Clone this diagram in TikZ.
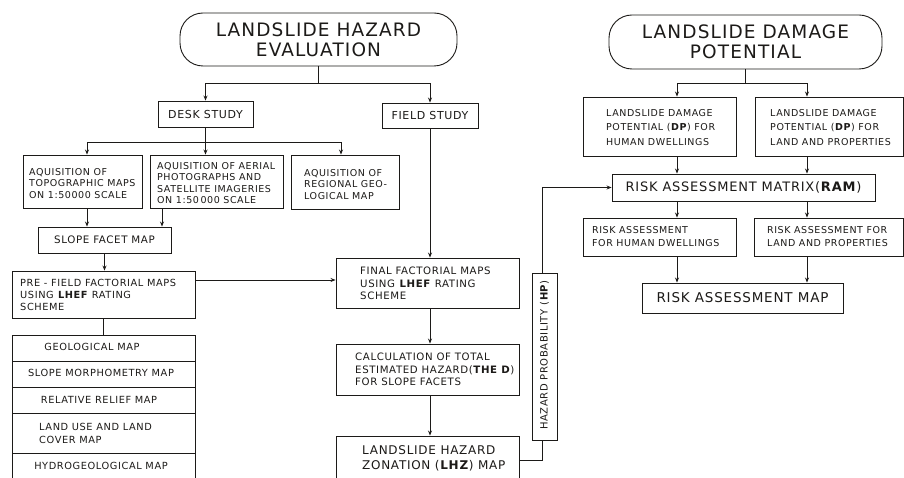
\documentclass[tikz,border=0pt]{standalone}
\usepackage{fontspec}
\setmainfont[LetterSpace=6]{DejaVu Sans}
\usetikzlibrary{arrows.meta}
\definecolor{inkc}{RGB}{28,26,24}
\newcommand\fsz[2]{\fontsize{#1}{#2}\selectfont}
\tikzset{
  box/.style={draw=inkc, line width=0.9pt, inner sep=0pt, text=inkc, align=center},
  pill/.style={box, rounded corners=23pt},
  txt/.style={inner sep=0pt, text=inkc, align=left, anchor=west},
  link/.style={draw=inkc, line width=0.8pt},
  arr/.style={link, -{Stealth[length=5pt,width=4pt]}}
}
\begin{document}
\begin{tikzpicture}[x=1pt,y=-1pt]
\useasboundingbox[fill=white] (0,0) rectangle (904,478);

% ---------------- hazard evaluation branch ----------------
\node[pill, minimum width=277pt, minimum height=53pt, font=\fsz{18.5}{20}] (haz) at (318.5,39.5) {LANDSLIDE HAZARD\\EVALUATION};

\node[box, minimum width=95pt, minimum height=26pt, font=\fsz{11}{13}] (desk) at (205.5,114) {DESK STUDY};
\node[box, minimum width=96pt, minimum height=25pt, font=\fsz{11}{13}] (field) at (430,115.5) {FIELD STUDY};

\node[box, minimum width=119pt, minimum height=53pt] (a1) at (82.5,181.5) {};
\node[txt, font=\fsz{9.5}{11.5}] (a1t) at (29,183.5) {AQUISITION OF\\TOPOGRAPHIC MAPS\\ON 1:50000 SCALE};
\node[box, minimum width=133pt, minimum height=53pt] (a2) at (216.5,181.5) {};
\node[txt, font=\fsz{9.5}{11.3}] (a2t) at (157,183) {AQUISITION OF AERIAL\\PHOTOGRAPHS AND\\SATELLITE IMAGERIES\\ON 1:50\,000 SCALE};
\node[box, minimum width=108pt, minimum height=54pt] (a3) at (345,182) {};
\node[txt, font=\fsz{9.5}{11.5}] (a3t) at (304,184.5) {AQUISITION OF\\REGIONAL GEO-\\LOGICAL MAP};

\node[box, minimum width=133pt, minimum height=26pt, font=\fsz{10.3}{12}] (facet) at (104.5,240) {SLOPE FACET MAP};

\node[box, minimum width=183pt, minimum height=47pt] (pre) at (103.5,294.5) {};
\node[txt, font=\fsz{9.8}{12}] (pret) at (20,295) {PRE - FIELD FACTORIAL MAPS\\USING \textbf{LHEF} RATING\\SCHEME};

% factor maps stack
\node[box, minimum width=183pt, minimum height=26pt] (geo) at (103.5,348) {};
\node[box, minimum width=183pt, minimum height=26pt] (morph) at (103.5,374) {};
\node[box, minimum width=183pt, minimum height=26pt] (relief) at (103.5,400) {};
\node[box, minimum width=183pt, minimum height=40pt] (landuse) at (103.5,433) {};
\node[box, minimum width=183pt, minimum height=37pt] (hydro) at (103.5,471.5) {};
\node[inner sep=0pt, text=inkc, font=\fsz{9.8}{12}] (geot) at (92,347) {GEOLOGICAL MAP};
\node[inner sep=0pt, text=inkc, font=\fsz{9.8}{12}] (morpht) at (101,373) {SLOPE MORPHOMETRY MAP};
\node[inner sep=0pt, text=inkc, font=\fsz{9.8}{12}] (relieft) at (99,399.5) {RELATIVE RELIEF MAP};
\node[txt, font=\fsz{9.8}{13}] (landuset) at (39,433) {LAND USE AND LAND\\COVER MAP};
\node[inner sep=0pt, text=inkc, font=\fsz{9.8}{12}] (hydrot) at (101,466) {HYDROGEOLOGICAL MAP};

\node[box, minimum width=183pt, minimum height=50pt] (final) at (427.5,283) {};
\node[txt, font=\fsz{10.2}{12.5}] (finalt) at (360,283.5) {FINAL FACTORIAL MAPS\\USING \textbf{LHEF} RATING\\SCHEME};
\node[box, minimum width=183pt, minimum height=51pt] (calc) at (427.5,369.5) {};
\node[txt, font=\fsz{10.2}{12.5}] (calct) at (355,369.5) {CALCULATION OF TOTAL\\ESTIMATED HAZARD(\textbf{THE D})\\FOR SLOPE FACETS};
\node[box, minimum width=183pt, minimum height=48pt] (lhz) at (427.5,460) {};
\node[txt, font=\fsz{12}{15}] (lhzt) at (362,458.5) {LANDSLIDE HAZARD\\ZONATION (\textbf{LHZ}) MAP};

\node[box, minimum width=25pt, minimum height=167pt] (hp) at (544.5,356.5) {};
\node[inner sep=0pt, text=inkc, rotate=90, font=\fsz{10}{12}] (hpt) at (544.5,355) {HAZARD PROBABILITY (\textbf{HP})};

% ---------------- damage potential branch ----------------
\node[pill, minimum width=273pt, minimum height=54pt, font=\fsz{18.5}{19.5}] (dmg) at (745.5,42) {LANDSLIDE DAMAGE\\POTENTIAL};

\node[box, minimum width=153pt, minimum height=59pt] (dp1) at (659.5,126.5) {};
\node[txt, font=\fsz{9.5}{14.5}] (dp1t) at (606,127.5) {LANDSLIDE DAMAGE\\POTENTIAL (\textbf{DP}) FOR\\HUMAN DWELLINGS};
\node[box, minimum width=148pt, minimum height=59pt] (dp2) at (829,126.5) {};
\node[txt, font=\fsz{9.5}{14.5}] (dp2t) at (770,127.5) {LANDSLIDE DAMAGE\\POTENTIAL (\textbf{DP}) FOR\\LAND AND PROPERTIES};

\node[box, minimum width=263pt, minimum height=27pt, font=\fsz{13}{15}] (ram) at (743.5,187.5) {RISK ASSESSMENT MATRIX(\textbf{RAM})};

\node[box, minimum width=153pt, minimum height=38pt] (ra1) at (659.5,237) {};
\node[txt, font=\fsz{9.5}{13}] (ra1t) at (592,236.5) {RISK ASSESSMENT\\FOR HUMAN DWELLINGS};
\node[box, minimum width=149pt, minimum height=38pt] (ra2) at (828.5,237) {};
\node[txt, font=\fsz{9.5}{13}] (ra2t) at (767,236.5) {RISK ASSESSMENT FOR\\LAND AND PROPERTIES};

\node[box, minimum width=201pt, minimum height=30pt, font=\fsz{13.5}{15}] (rmap) at (742.5,298) {RISK ASSESSMENT MAP};

% ---------------- connectors ----------------
\draw[link] (haz.south) -- ++(0,17) coordinate (j1);
\draw[arr] (j1) -| (desk.north);
\draw[arr] (j1) -| (field.north);

\draw[link] (desk.south) -- ++(0,15) coordinate (j2);
\draw[arr] (j2) -| ([xshift=4.5pt]a1.north);
\draw[arr] (j2) -- (j2 |- a2.north);
\draw[arr] (j2) -| ([xshift=-4pt]a3.north);

\draw[arr] ([xshift=4.5pt]a1.south) -- ([xshift=4.5pt]a1.south |- facet.north);
\draw[arr] ([xshift=-54.5pt]a2.south) -- ([xshift=-54.5pt]a2.south |- facet.north);
\draw[arr] (facet.south) -- (facet.south |- pre.north);
\draw[link] (pre.south) -- (pre.south |- geo.north);

\draw[arr] ([yshift=14.5pt]pre.east) -- ([yshift=14.5pt]pre.east -| final.west);
\draw[arr] (field.south) -- (field.south |- final.north);
\draw[arr] ([xshift=2.5pt]final.south) -- ([xshift=2.5pt]calc.north);
\draw[arr] ([xshift=2.5pt]calc.south) -- ([xshift=2.5pt]lhz.north);

\draw[link] (lhz.east) -| ([xshift=-2.5pt]hp.south);
\draw[arr] ([xshift=-2.5pt]hp.north) |- (ram.west);

\draw[link] (dmg.south) -- ++(0,14) coordinate (j3);
\draw[arr] (j3) -| ([xshift=17.5pt]dp1.north);
\draw[arr] (j3) -| ([xshift=-22pt]dp2.north);

\draw[arr] ([xshift=17.5pt]dp1.south) -- ([xshift=17.5pt]dp1.south |- ram.north);
\draw[arr] ([xshift=-22pt]dp2.south) -- ([xshift=-22pt]dp2.south |- ram.north);
\draw[arr] ([xshift=17.5pt]ra1.north |- ram.south) -- ([xshift=17.5pt]ra1.north);
\draw[arr] ([xshift=-21.5pt]ra2.north |- ram.south) -- ([xshift=-21.5pt]ra2.north);
\draw[arr] ([xshift=17.5pt]ra1.south) -- ([xshift=17.5pt]ra1.south |- rmap.north);
\draw[arr] ([xshift=-21.5pt]ra2.south) -- ([xshift=-21.5pt]ra2.south |- rmap.north);
\end{tikzpicture}
\end{document}
